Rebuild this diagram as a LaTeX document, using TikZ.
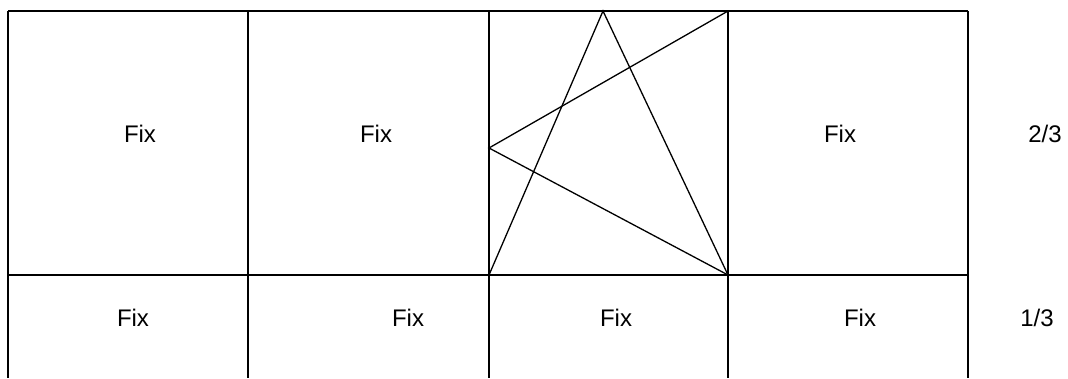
\documentclass[tikz,border=0pt]{standalone}
\usepackage{fontspec}
\setmainfont{Liberation Sans}
\usepackage{tikz}
\usetikzlibrary{calc}

\begin{document}
\begin{tikzpicture}[
  x=1pt, y=1pt,
  every node/.style={font=\fontsize{24}{28}\selectfont, inner sep=0pt},
  gridline/.style={line width=1.5pt, black},
  cutline/.style={line width=1.3pt, black}
]
\useasboundingbox (0,0) rectangle (1068,378);
% column edges and row heights
\def\rowTop{367}
\def\rowMid{103}
\def\rowBot{0}
\foreach \name/\xpos in {A/8,B/248,C/489,D/728,E/968}{
  \coordinate (top\name) at (\xpos,\rowTop);
  \coordinate (mid\name) at (\xpos,\rowMid);
  \coordinate (bot\name) at (\xpos,\rowBot);
  \draw[gridline] (top\name)--(bot\name);
}
\draw[gridline] (topA)--(topE);
\draw[gridline] (midA)--(midE);
% the crossed cell
\coordinate (apex) at (603,\rowTop);
\coordinate (side) at (489,230);
\draw[cutline] (midC)--(apex)--(midD);
\draw[cutline] (topD)--(side)--(midD);
% labels
\node (fixA) at (140,244) {Fix};
\node (fixB) at (376,244) {Fix};
\node (fixD) at (840,244) {Fix};
\node (fixAlow) at (133,60) {Fix};
\node (fixBlow) at (408,60) {Fix};
\node (fixClow) at (616,60) {Fix};
\node (fixDlow) at (860,60) {Fix};
\node (upper) at (1045,244) {2/3};
\node (lower) at (1037,60) {1/3};
\end{tikzpicture}
\end{document}
